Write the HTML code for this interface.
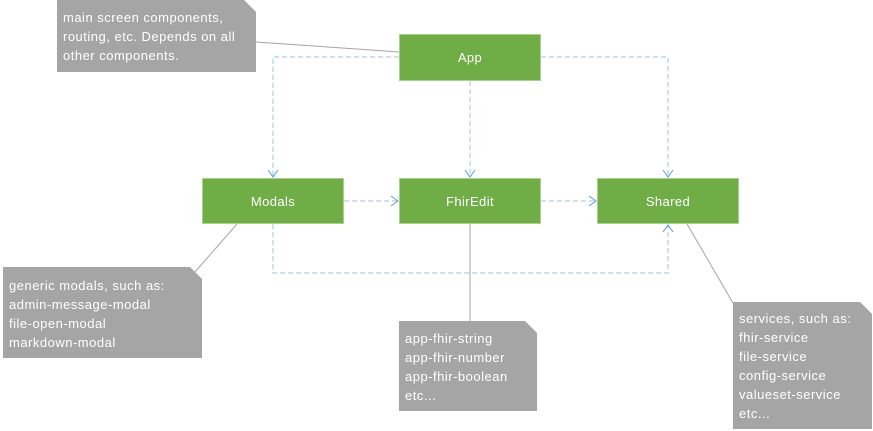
<!DOCTYPE html>
<html><head><style>
body{margin:0;width:873px;height:431px;background:#fff;position:relative;overflow:hidden;font-family:"Liberation Sans",sans-serif}
.b{position:absolute;background:#70ad47;border:1px solid #a9d18e;box-sizing:border-box;color:#fff;font-size:13px;letter-spacing:0.4px;display:flex;align-items:center;justify-content:center}
.n{position:absolute;background:#a5a5a5;color:#fff;font-size:13px;letter-spacing:0.5px;line-height:19px;padding:8px 0 0 6px;box-sizing:border-box;white-space:pre;clip-path:polygon(0 0,calc(100% - 12px) 0,100% 12px,100% 100%,0 100%)}
</style></head><body>
<svg width="873" height="431" style="position:absolute;left:0;top:0">
<g stroke="#a5a5a5" stroke-width="1" fill="none">
<line x1="256" y1="42" x2="399" y2="52"/>
<line x1="237" y1="224" x2="195" y2="272"/>
<line x1="470" y1="224" x2="470" y2="321"/>
<line x1="687" y1="224" x2="733" y2="303"/>
</g>
<g stroke="#9dc3e6" stroke-width="1" fill="none" stroke-dasharray="5,3">
<polyline points="399,57 273,57 273,177"/>
<polyline points="541,57 668,57 668,177"/>
<line x1="470" y1="81" x2="470" y2="177"/>
<line x1="344" y1="201" x2="398" y2="201"/>
<line x1="541" y1="201" x2="596" y2="201"/>
<polyline points="273,224 273,273 668,273 668,225"/>
</g>
<g stroke="#5b9bd5" stroke-width="1" fill="none">
<polyline points="268,170 273,177 278,170"/>
<polyline points="465,170 470,177 475,170"/>
<polyline points="663,170 668,177 673,170"/>
<polyline points="391,196 398,201 391,206"/>
<polyline points="589,196 596,201 589,206"/>
<polyline points="663,232 668,225 673,232"/>
</g>
<g fill="#e8e8e8">
<polygon points="244,0 256,12 244,12"/>
<polygon points="190,267 202,279 190,279"/>
<polygon points="525,321 537,333 525,333"/>
<polygon points="860,302 872,314 860,314"/>
</g>
</svg>
<div class="b" style="left:399px;top:34px;width:142px;height:47px">App</div>
<div class="b" style="left:202px;top:178px;width:142px;height:46px">Modals</div>
<div class="b" style="left:399px;top:178px;width:142px;height:46px">FhirEdit</div>
<div class="b" style="left:597px;top:178px;width:142px;height:46px">Shared</div>
<div class="n" style="left:57px;top:0;width:199px;height:72px">main screen components,
routing, etc. Depends on all
other components.</div>
<div class="n" style="left:3px;top:267px;width:199px;height:91px;padding-top:9px">generic modals, such as:
admin-message-modal
file-open-modal
markdown-modal</div>
<div class="n" style="left:399px;top:321px;width:138px;height:90px;padding-top:8px">app-fhir-string
app-fhir-number
app-fhir-boolean
etc...</div>
<div class="n" style="left:733px;top:302px;width:139px;height:127px;padding-top:7px">services, such as:
fhir-service
file-service
config-service
valueset-service
etc...</div>
</body></html>
